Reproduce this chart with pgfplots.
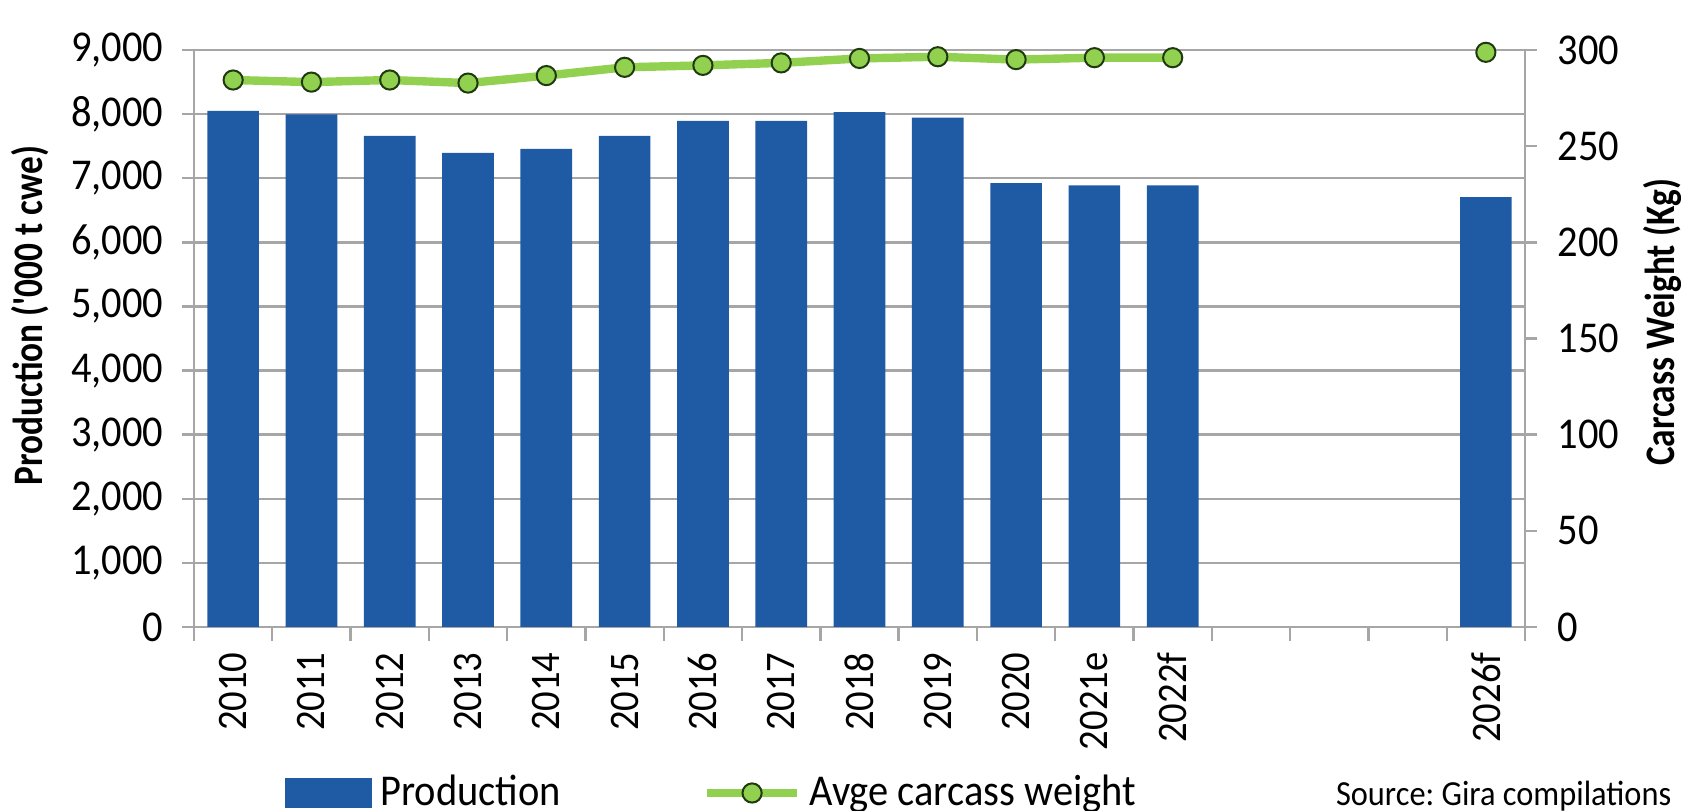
\documentclass[border=0pt]{standalone}
\usepackage{fontspec}
\setmainfont{Carlito}[FakeStretch=0.92]
\newfontfamily\labelfont{Carlito}[FakeStretch=0.84]
\usepackage{pgfplots}
\pgfplotsset{compat=1.18}
\definecolor{barblue}{HTML}{1F5BA5}
\definecolor{lime}{HTML}{92D050}
\definecolor{gridgrey}{HTML}{A6A6A6}
\definecolor{mkedge}{HTML}{203A10}

\pgfplotsset{
  base/.style={width=332.75pt, height=144.25pt, scale only axis,
    xmin=-0.5, xmax=16.5, tick align=outside,
    /pgf/number format/assume math mode=true,
    tick label style={font=\fontsize{11}{13}\selectfont, text=black},
    axis line style={gridgrey, line width=0.6pt},
    label style={font=\labelfont\bfseries\fontsize{10.5}{12}\selectfont},
    clip=false},
  barlegend/.style={legend image code/.code={\fill[barblue] (0pt,-3.6pt) rectangle (21.5pt,3.6pt);}},
  linelegend/.style={legend image code/.code={
      \draw[lime, line width=2.1pt] (0pt,0pt) -- (22.5pt,0pt);
      \draw[fill=lime, draw=mkedge, line width=0.5pt] (11.25pt,0pt) circle (2.4pt);}},
}

\begin{document}
\begin{tikzpicture}
% left axis: production bars
\begin{axis}[base,
  ymin=0, ymax=9000, ytick={0,1000,...,9000},
  axis y line*=left, axis x line*=bottom,
  ymajorgrids, grid style={gridgrey, line width=0.6pt},
  xtick={0,1,2,3,4,5,6,7,8,9,10,11,12,16},
  xticklabels={2010,2011,2012,2013,2014,2015,2016,2017,2018,2019,2020,2021e,2022f,2026f},
  major x tick style={draw=none},
  minor xtick={-0.5,0.5,...,16.5},
  minor x tick style={gridgrey, line width=0.6pt},
  minor tick length=3.5pt, major tick length=3pt,
  y tick style={gridgrey, line width=0.6pt},
  xticklabel style={rotate=90, anchor=east, inner xsep=3.2pt, font=\fontsize{10.5}{12}\selectfont},
  yticklabel style={inner xsep=4.5pt},
  scaled y ticks=false,
  ylabel={Production ('000 t cwe)},
  ylabel style={at={(axis description cs:-0.123,0.54)}, anchor=center},
]
\addplot[ybar, bar width=0.66, fill=barblue, draw=none] coordinates {
  (0,8050) (1,7995) (2,7660) (3,7395) (4,7460) (5,7660) (6,7895)
  (7,7895) (8,8030) (9,7945) (10,6925) (11,6890) (12,6890) (16,6705)};
\end{axis}
% right axis: carcass weight
\begin{axis}[base,
  ymin=0, ymax=300, ytick={0,50,...,300},
  axis y line*=right, axis x line=none,
  major tick length=3pt,
  y tick style={gridgrey, line width=0.6pt},
  yticklabel style={inner xsep=5pt},
  ylabel={Carcass Weight (Kg)},
  ylabel style={at={(axis description cs:1.103,0.528)}, anchor=center, rotate=0},
  legend columns=2,
  legend style={at={(axis description cs:0.0676,-0.2877)}, anchor=west,
    draw=none, fill=none, inner sep=0pt,
    font=\fontsize{11}{13}\selectfont,
    /tikz/every even column/.append style={column sep=33.5pt}},
]
\addlegendimage{barlegend}
\addlegendentry{Production}
\addlegendimage{linelegend}
\addlegendentry{Avge carcass weight}
\addplot[lime, line width=2.1pt, mark=*, mark size=2.4pt,
  mark options={fill=lime, draw=mkedge, line width=0.5pt}, forget plot] coordinates {
  (0,284.4) (1,283.3) (2,284.4) (3,282.8) (4,286.7) (5,291) (6,292)
  (7,293.3) (8,295.6) (9,296.5) (10,295) (11,296) (12,296)};
\addplot[only marks, mark=*, mark size=2.4pt,
  mark options={fill=lime, draw=mkedge, line width=0.5pt}, forget plot] coordinates {(16,298.8)};
\end{axis}
\node[anchor=east, inner sep=0pt, font=\fontsize{8.8}{10}\selectfont] at (369.5pt,-42.3pt) {\frenchspacing Source: Gira compilations};
\pgfresetboundingbox
\path[use as bounding box] (-48.5pt,-46pt) rectangle (371.75pt,156.75pt);
\end{tikzpicture}
\end{document}
